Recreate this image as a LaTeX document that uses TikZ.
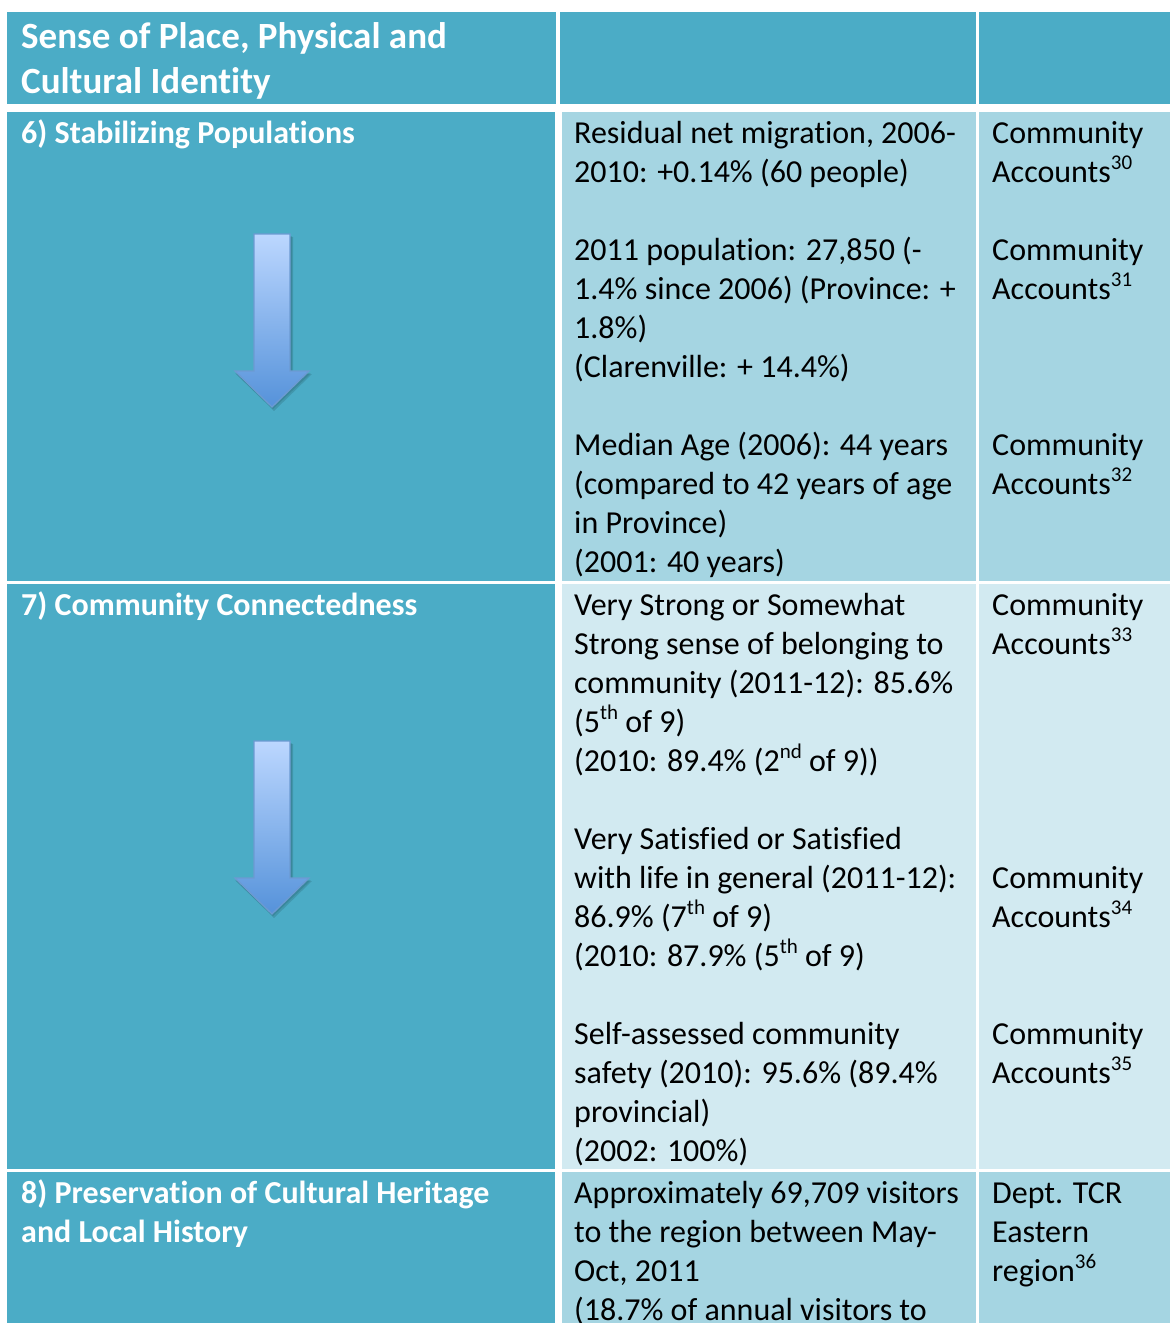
\documentclass[tikz,border=0pt]{standalone}
\usepackage{fontspec}
\setmainfont[Ligatures=NoCommon]{Carlito}
\definecolor{hdr}{HTML}{4BACC6}
\definecolor{midA}{HTML}{A5D5E2}
\definecolor{midB}{HTML}{D2EAF1}
\definecolor{arrTop}{HTML}{BCD7FF}
\definecolor{arrBot}{HTML}{5592DA}
\definecolor{arrEdge}{HTML}{6C9AD2}
\newcommand\sups[1]{\raisebox{13pt}{\fontsize{21}{21}\selectfont #1}}
\newcommand\Tline[4]{\node[body] (#1) at (#2,#3) {#4};}
\newcommand\Lline[4]{\node[lab] (#1) at (#2,#3) {#4};}
\newcommand\DownArrow[2]{%
  \fill[black,opacity=0.12] (#1+2,#2+3) -- (#1+21,#2+3) -- (#1+21,#2+140) -- (#1+40,#2+140) -- (#1+2,#2+177) -- (#1-36,#2+140) -- (#1-17,#2+140) -- cycle;
  \fill[black,opacity=0.10] (#1+1,#2+2) -- (#1+20,#2+2) -- (#1+20,#2+139) -- (#1+39,#2+139) -- (#1+1,#2+175) -- (#1-37,#2+139) -- (#1-18,#2+139) -- cycle;
  \path[top color=arrTop,bottom color=arrBot,draw=arrEdge,line width=1.3pt]
    (#1-18,#2) -- (#1+18,#2) -- (#1+18,#2+137) -- (#1+37,#2+137) -- (#1,#2+173) -- (#1-37,#2+137) -- (#1-18,#2+137) -- cycle;}
\begin{document}
\begin{tikzpicture}[x=1pt,y=-1pt,
  body/.style={anchor=base west, inner sep=0pt, font=\fontsize{32}{39}\selectfont, text=black},
  lab/.style={anchor=base west, inner sep=0pt, font=\fontsize{32}{39}\selectfont\bfseries, text=white},
  head/.style={anchor=base west, inner sep=0pt, font=\fontsize{37}{45}\selectfont\bfseries, text=white}]
\useasboundingbox (0,0) rectangle (1170,1323);
\clip (0,0) rectangle (1170,1323);
\fill[white] (0,0) rectangle (1170,1323);
% header
\fill[hdr] (7,12) rectangle (556,104);
\fill[hdr] (560,12) rectangle (976,104);
\fill[hdr] (979,12) rectangle (1170,104);
% row 6
\fill[hdr] (7,112) rectangle (555,581);
\fill[midA] (562,112) rectangle (976,581);
\fill[midA] (979,112) rectangle (1170,581);
% row 7
\fill[hdr] (7,584) rectangle (555,1169);
\fill[midB] (562,584) rectangle (976,1169);
\fill[midB] (979,584) rectangle (1170,1169);
% row 8
\fill[hdr] (7,1172) rectangle (555,1330);
\fill[midA] (562,1172) rectangle (976,1330);
\fill[midA] (979,1172) rectangle (1170,1330);
% arrows
\DownArrow{272}{234}
\DownArrow{272}{741}
% header text
\node[head] (h1) at (21,48) {Sense of Place, Physical and};
\node[head] (h2) at (21,93) {Cultural Identity};
% left labels
\Lline{l6}{21}{143}{6) Stabilizing Populations}
\Lline{l7}{21}{615}{7) Community Connectedness}
\Lline{l8a}{21}{1203}{8) Preservation of Cultural Heritage}
\Lline{l8b}{21}{1242}{and Local History}
% row 6 middle
\Tline{a1}{574}{143}{Residual net migration, 2006-}
\Tline{a2}{574}{182}{2010: +0.14\% (60 people)}
\Tline{a3}{574}{260}{2011 population: 27,850 (-}
\Tline{a4}{574}{299}{1.4\% since 2006) (Province: +}
\Tline{a5}{574}{338}{1.8\%)}
\Tline{a6}{574}{377}{(Clarenville: + 14.4\%)}
\Tline{a7}{574}{455}{Median Age (2006): 44 years}
\Tline{a8}{574}{494}{(compared to 42 years of age}
\Tline{a9}{574}{533}{in Province)}
\Tline{a10}{574}{572}{(2001: 40 years)}
% row 6 right
\Tline{r1}{992}{143}{Community}
\Tline{r2}{992}{182}{Accounts\sups{30}}
\Tline{r3}{992}{260}{Community}
\Tline{r4}{992}{299}{Accounts\sups{31}}
\Tline{r5}{992}{455}{Community}
\Tline{r6}{992}{494}{Accounts\sups{32}}
% row 7 middle
\Tline{b1}{574}{615}{Very Strong or Somewhat}
\Tline{b2}{574}{654}{Strong sense of belonging to}
\Tline{b3}{574}{693}{community (2011-12): 85.6\%}
\Tline{b4}{574}{732}{(5\sups{th} of 9)}
\Tline{b5}{574}{771}{(2010: 89.4\% (2\sups{nd} of 9))}
\Tline{b6}{574}{849}{Very Satisfied or Satisfied}
\Tline{b7}{574}{888}{with life in general (2011-12):}
\Tline{b8}{574}{927}{86.9\% (7\sups{th} of 9)}
\Tline{b9}{574}{966}{(2010: 87.9\% (5\sups{th} of 9)}
\Tline{b10}{574}{1044}{Self-assessed community}
\Tline{b11}{574}{1083}{safety (2010): 95.6\% (89.4\%}
\Tline{b12}{574}{1122}{provincial)}
\Tline{b13}{574}{1161}{(2002: 100\%)}
% row 7 right
\Tline{s1}{992}{615}{Community}
\Tline{s2}{992}{654}{Accounts\sups{33}}
\Tline{s3}{992}{888}{Community}
\Tline{s4}{992}{927}{Accounts\sups{34}}
\Tline{s5}{992}{1044}{Community}
\Tline{s6}{992}{1083}{Accounts\sups{35}}
% row 8
\Tline{c1}{574}{1203}{Approximately 69,709 visitors}
\Tline{c2}{574}{1242}{to the region between May-}
\Tline{c3}{574}{1281}{Oct, 2011}
\Tline{c4}{574}{1320}{(18.7\% of annual visitors to}
\Tline{t1}{992}{1203}{Dept. TCR}
\Tline{t2}{992}{1242}{Eastern}
\Tline{t3}{992}{1281}{region\sups{36}}
\end{tikzpicture}
\end{document}
